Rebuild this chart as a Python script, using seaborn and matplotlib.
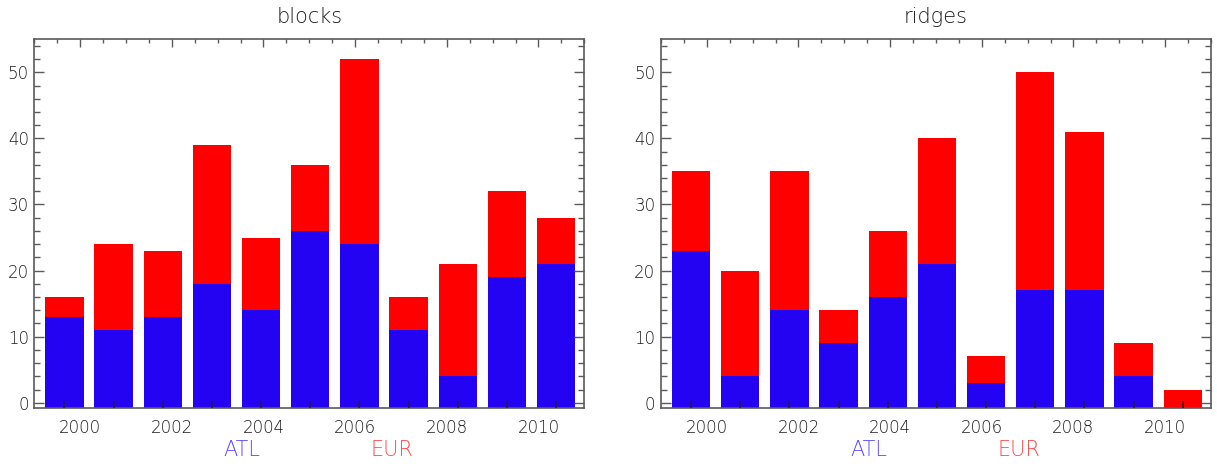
import matplotlib.pyplot as plt
from matplotlib.ticker import MultipleLocator
import seaborn as sns
import pandas as pd

years = list(range(2000, 2011))

# blocks: total (ATL + EUR) and ATL part
blocks_total = [16, 24, 23, 39, 25, 36, 52, 16, 21, 32, 28]
blocks_atl = [13, 11, 13, 18, 14, 26, 24, 11, 4, 19, 21]

# ridges
ridges_total = [35, 20, 35, 14, 26, 40, 7, 50, 41, 9, 2]
ridges_atl = [23, 4, 14, 9, 16, 21, 3, 17, 17, 4, 0]

titles = ["blocks", "ridges"]
year_ticks = [2000, 2002, 2004, 2006, 2008, 2010]

BLUE = "#2402f2"
RED = "#ff0000"
AXC = "#5a5a5a"
TXT = "#1c1c1c"
YLO, YHI = -0.75, 55

sns.set_theme(style="white")
plt.rcParams['font.family'] = ['DejaVu Sans']
plt.rcParams['font.weight'] = 'light'

fig = plt.figure(figsize=(12.17, 4.66), dpi=100)
lefts = [0.0282, 0.5431]


def panel(left, title, total, atl):
    ax = fig.add_axes([left, 0.1251, 0.4519, 0.7906])
    df = pd.DataFrame({"year": years, "total": total, "atl": atl})
    sns.barplot(data=df, x="year", y="total", color=RED, saturation=1,
                width=0.78, linewidth=0, ax=ax)
    sns.barplot(data=df, x="year", y="atl", color=BLUE, saturation=1,
                width=0.78, linewidth=0, ax=ax)
    # let the bars start at the floor of the plot, like the original
    for p in ax.patches:
        if p.get_height() > 0:
            p.set_height(p.get_height() + p.get_y() - YLO)
            p.set_y(YLO)
    ax.set_axisbelow(False)
    ax.set_ylim(YLO, YHI)
    ax.set_xlim(-0.61, 10.57)
    ax.set_xlabel("")
    ax.set_ylabel("")
    ax.set_title(title, fontsize=15, color=TXT, pad=12, fontweight='light')

    # bottom ticks at the bar centres, no labels
    ax.set_xticks(range(len(years)))
    ax.tick_params(axis='x', which='both', direction='in', length=5,
                   width=1.1, color="#222222", bottom=True, top=False,
                   labelbottom=False)
    ax.yaxis.set_major_locator(MultipleLocator(10))
    ax.yaxis.set_minor_locator(MultipleLocator(2))
    ax.tick_params(axis='y', which='major', direction='in', length=7.5,
                   width=1, color=AXC, left=True, right=True,
                   labelsize=12, labelcolor=TXT, pad=4)
    ax.tick_params(axis='y', which='minor', direction='in', length=4,
                   width=1, color=AXC, left=True, right=True)
    for s in ax.spines.values():
        s.set_color(AXC)
        s.set_linewidth(1.2)

    # year axis
    ay = ax.twiny()
    ay.set_xlim(1999, 2011)
    ay.set_xticks(year_ticks)
    ay.set_xticklabels([str(y) for y in year_ticks])
    ay.xaxis.set_minor_locator(MultipleLocator(0.5))
    ay.tick_params(axis='x', which='major', direction='in', length=5.5,
                   width=1, color=AXC, top=True, bottom=False,
                   labeltop=False, labelbottom=True, labelsize=12,
                   labelcolor=TXT, pad=8)
    ay.tick_params(axis='x', which='minor', direction='in', length=3,
                   width=1, color=AXC, top=True, bottom=False)
    for s in ay.spines.values():
        s.set_visible(False)

    ax.text(0.378, -0.115, "ATL", transform=ax.transAxes, ha='center',
            va='center', fontsize=15, color="#5a4cff", fontweight='light')
    ax.text(0.651, -0.115, "EUR", transform=ax.transAxes, ha='center',
            va='center', fontsize=15, color="#ff4a4a", fontweight='light')
    return ax


panel(lefts[0], titles[0], blocks_total, blocks_atl)
panel(lefts[1], titles[1], ridges_total, ridges_atl)

plt.savefig("out.png", dpi=100)
